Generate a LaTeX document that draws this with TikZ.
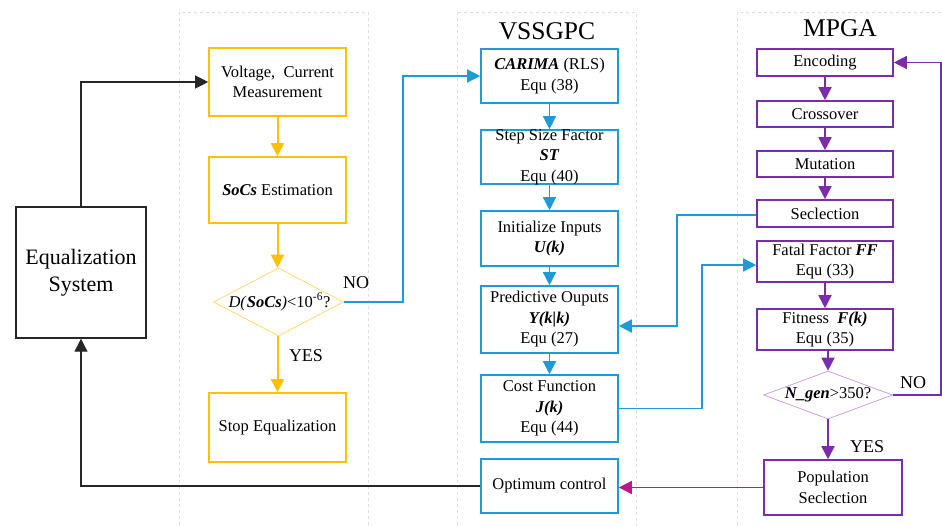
\documentclass[tikz,border=0pt]{standalone}
\usepackage{fontspec}
\setmainfont{Liberation Serif}
\usetikzlibrary{arrows.meta,shapes.geometric}
\definecolor{ylw}{RGB}{255,192,0}
\definecolor{ylwd}{RGB}{255,214,100}
\definecolor{blu}{RGB}{30,155,215}
\definecolor{pur}{RGB}{122,44,170}
\definecolor{purd}{RGB}{195,150,225}
\definecolor{mag}{RGB}{192,24,140}
\definecolor{panelc}{RGB}{222,222,222}
\tikzset{
  every node/.style={font=\fontsize{16.5}{20.5}\selectfont, align=center, inner sep=0pt},
  box/.style={draw, rectangle, line width=1.6pt},
  ybox/.style={box, draw=ylw, minimum width=137pt},
  bbox/.style={box, draw=blu, minimum width=137pt},
  pbox/.style={box, draw=pur, minimum width=136pt},
  ydia/.style={draw=ylwd, diamond, aspect=1.9, line width=0.7pt},
  pdia/.style={draw=purd, diamond, aspect=2.7, line width=0.7pt},
  tip/.style={-{Triangle[length=13pt,width=13pt]}},
  yarr/.style={tip, draw=ylw, line width=2pt},
  barr/.style={tip, draw=blu, line width=1.4pt},
  parr/.style={tip, draw=pur, line width=1.8pt},
  karr/.style={tip, draw=black!85, line width=1.2pt},
  lbl/.style={font=\fontsize{18}{20}\selectfont},
  ttl/.style={font=\fontsize{25.5}{28}\selectfont},
  panel/.style={draw=panelc, dashed, line width=0.8pt}
}
\begin{document}
\begin{tikzpicture}[x=1pt,y=-1pt]
\useasboundingbox (0,0) rectangle (942,525);
\begin{scope}
\clip (0,0) rectangle (942,525);
\draw[panel] (179,12) rectangle (368,540);
\draw[panel] (457,12) rectangle (636,540);
\draw[panel] (737,12) rectangle (980,540);
\end{scope}

% titles
\node[ttl] (t1) at (547,31) {VSSGPC};
\node[ttl] (t2) at (840,28) {MPGA};

% equalization system
\node[box, draw=black!85, line width=1.4pt, minimum width=130pt, minimum height=131pt,
      font=\fontsize{22}{27}\selectfont] (eq) at (81,272.5) {Equalization\\System};

% yellow column
\node[ybox, minimum height=68pt] (volt) at (277.5,82) {Voltage,\ \ Current\\Measurement};
\node[ybox, minimum height=66pt] (soc) at (277.5,190) {\textbf{\textit{SoCs}} Estimation};
\node[ydia, minimum width=130pt, minimum height=68pt] (d1) at (278.5,302) {};
\node (d1t) at (279.5,302) {\textit{D(}\textbf{\textit{SoCs}}\textit{)}<10\textsuperscript{-6}?};
\node[ybox, minimum height=69pt] (stop) at (277.5,427.5) {Stop Equalization};
\node[lbl] (no1) at (356,283) {NO};
\node[lbl] (yes1) at (306,356) {YES};

% blue column
\node[bbox, minimum height=54pt] (car) at (549.5,76) {\textbf{\textit{CARIMA}} (RLS)\\Equ (38)};
\node[bbox, minimum height=54pt] (st) at (549.5,157) {};
\node (stt) at (549.5,157) {Step Size Factor\\\textbf{\textit{ST}}\\Equ (40)};
\node[bbox, minimum height=55pt] (init) at (549.5,238.5) {Initialize Inputs\\\textbf{\textit{U(k)}}};
\node[bbox, minimum height=67pt] (pred) at (549.5,319.5) {Predictive Ouputs\\\textbf{\textit{Y(k|k)}}\\Equ (27)};
\node[bbox, minimum height=67pt] (cost) at (549.5,408.5) {Cost Function\\\textbf{\textit{J(k)}}\\Equ (44)};
\node[bbox, minimum height=54pt] (opt) at (549.5,486) {Optimum control};

% purple column
\node[pbox, minimum height=27pt] (enc) at (825,62.5) {Encoding};
\node[pbox, minimum height=26pt] (cro) at (825,114) {Crossover};
\node[pbox, minimum height=26pt] (mut) at (825,164) {Mutation};
\node[pbox, minimum height=27pt] (sel) at (825,213.5) {Seclection};
\node[pbox, minimum height=41pt] (fat) at (825,261.5) {Fatal Factor \textbf{\textit{FF}}\\Equ (33)};
\node[pbox, minimum height=41pt] (fit) at (825,329.5) {Fitness\ \ \textbf{\textit{F(k)}}\\Equ (35)};
\node[pdia, minimum width=129pt, minimum height=48pt] (d2) at (828,395) {};
\node (d2t) at (828,395) {\textbf{\textit{N\_gen}}>350?};
\node[pbox, minimum width=138pt, minimum height=55pt] (pop) at (833,487.5) {Population\\Seclection};
\node[lbl] (no2) at (913,383) {NO};
\node[lbl] (yes2) at (867,447) {YES};

% black connectors
\draw[karr] (eq.north) |- (volt.west);
\draw[karr] (opt.west) -| (eq.south);

% yellow arrows
\draw[yarr] (volt.south) -- (soc.north);
\draw[yarr] (soc.south) -- (soc.south |- d1.north);
\draw[yarr] (soc.south |- d1.south) -- (stop.north);

% blue arrows
\draw[barr] (d1.east) -- (403,302) |- (car.west);
\draw[barr] (car.south) -- (st.north);
\draw[barr] (st.south) -- (init.north);
\draw[barr] (init.south) -- (pred.north);
\draw[barr] (pred.south) -- (cost.north);
\draw[barr] (cost.east) -- (702,408.5) |- ([yshift=-3.5pt]fat.west);
\draw[barr] ([yshift=-1.5pt]sel.west) -- (677,215) |- ([yshift=-6.5pt]pred.east);

% purple arrows
\draw[parr] (enc.south) -- (cro.north);
\draw[parr] (cro.south) -- (mut.north);
\draw[parr] (mut.south) -- (sel.north);
\draw[parr] (fat.south) -- (fit.north);
\draw[parr] (d2.north |- fit.south) -- (d2.north);
\draw[parr] (d2.south) -- (d2.south |- pop.north);
\draw[parr, line width=1.4pt] (d2.east) -- (941,395) |- (enc.east);

% magenta arrow
\draw[tip, draw=mag, line width=1.6pt] (pop.west) -- (pop.west -| opt.east);
\end{tikzpicture}
\end{document}
